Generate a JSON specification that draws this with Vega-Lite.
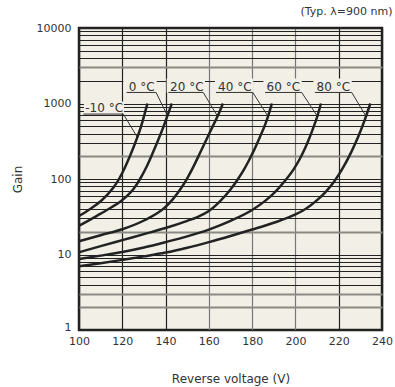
{
  "$schema": "https://vega.github.io/schema/vega-lite/v6.json",
  "width": 303,
  "height": 302,
  "autosize": {"type": "none"},
  "padding": {"left": 79, "top": 28, "right": 13, "bottom": 57},
  "background": "white",
  "title": {"text": "(Typ. λ=900 nm)", "anchor": "end", "fontSize": 11, "fontWeight": "normal", "color": "#333", "font": "DejaVu Sans", "offset": 5},
  "config": {
    "font": "DejaVu Sans",
    "view": {"fill": "#F2EFE6", "stroke": "#222", "strokeWidth": 2.5}
  },
  "datasets": {
    "curves": [
      {"t": "-10 °C", "v": 100, "g": 32.4}, {"t": "-10 °C", "v": 105, "g": 39.8}, {"t": "-10 °C", "v": 110, "g": 50.7}, {"t": "-10 °C", "v": 113, "g": 61.7}, {"t": "-10 °C", "v": 116, "g": 77.6}, {"t": "-10 °C", "v": 118.5, "g": 100}, {"t": "-10 °C", "v": 121, "g": 138}, {"t": "-10 °C", "v": 123.5, "g": 200}, {"t": "-10 °C", "v": 126, "g": 302}, {"t": "-10 °C", "v": 128.5, "g": 479}, {"t": "-10 °C", "v": 130.3, "g": 724}, {"t": "-10 °C", "v": 131.6, "g": 1000},
      {"t": "0 °C", "v": 100, "g": 24}, {"t": "0 °C", "v": 105, "g": 28.8}, {"t": "0 °C", "v": 110, "g": 34.7}, {"t": "0 °C", "v": 115, "g": 42.2}, {"t": "0 °C", "v": 119, "g": 50.1}, {"t": "0 °C", "v": 122, "g": 58.9}, {"t": "0 °C", "v": 125, "g": 72.4}, {"t": "0 °C", "v": 128, "g": 97.7}, {"t": "0 °C", "v": 131, "g": 141}, {"t": "0 °C", "v": 134, "g": 219}, {"t": "0 °C", "v": 136.5, "g": 324}, {"t": "0 °C", "v": 139, "g": 490}, {"t": "0 °C", "v": 141, "g": 708}, {"t": "0 °C", "v": 142.9, "g": 1000},
      {"t": "20 °C", "v": 100, "g": 15}, {"t": "20 °C", "v": 110, "g": 18}, {"t": "20 °C", "v": 120, "g": 21.6}, {"t": "20 °C", "v": 130, "g": 28.2}, {"t": "20 °C", "v": 140, "g": 42.7}, {"t": "20 °C", "v": 143, "g": 52.5}, {"t": "20 °C", "v": 146.5, "g": 70.8}, {"t": "20 °C", "v": 150, "g": 102}, {"t": "20 °C", "v": 153, "g": 148}, {"t": "20 °C", "v": 156, "g": 224}, {"t": "20 °C", "v": 159, "g": 339}, {"t": "20 °C", "v": 162, "g": 513}, {"t": "20 °C", "v": 164.5, "g": 724}, {"t": "20 °C", "v": 166.5, "g": 1000},
      {"t": "40 °C", "v": 100, "g": 10.7}, {"t": "40 °C", "v": 110, "g": 12.9}, {"t": "40 °C", "v": 120, "g": 15.5}, {"t": "40 °C", "v": 130, "g": 18.6}, {"t": "40 °C", "v": 140, "g": 22.4}, {"t": "40 °C", "v": 150, "g": 27.9}, {"t": "40 °C", "v": 155, "g": 31.6}, {"t": "40 °C", "v": 160, "g": 37.6}, {"t": "40 °C", "v": 165, "g": 50.1}, {"t": "40 °C", "v": 170, "g": 72.4}, {"t": "40 °C", "v": 173, "g": 95.5}, {"t": "40 °C", "v": 176, "g": 130}, {"t": "40 °C", "v": 178.5, "g": 176}, {"t": "40 °C", "v": 181, "g": 245}, {"t": "40 °C", "v": 183.5, "g": 355}, {"t": "40 °C", "v": 186, "g": 525}, {"t": "40 °C", "v": 188, "g": 776}, {"t": "40 °C", "v": 189.1, "g": 1000},
      {"t": "60 °C", "v": 100, "g": 8.7}, {"t": "60 °C", "v": 110, "g": 9.66}, {"t": "60 °C", "v": 120, "g": 10.8}, {"t": "60 °C", "v": 130, "g": 12.4}, {"t": "60 °C", "v": 140, "g": 14.6}, {"t": "60 °C", "v": 150, "g": 17.4}, {"t": "60 °C", "v": 160, "g": 21.4}, {"t": "60 °C", "v": 170, "g": 27.9}, {"t": "60 °C", "v": 180, "g": 38.9}, {"t": "60 °C", "v": 186, "g": 51.3}, {"t": "60 °C", "v": 191, "g": 69.2}, {"t": "60 °C", "v": 195, "g": 93.3}, {"t": "60 °C", "v": 199, "g": 132}, {"t": "60 °C", "v": 202, "g": 184}, {"t": "60 °C", "v": 204.5, "g": 257}, {"t": "60 °C", "v": 206.5, "g": 351}, {"t": "60 °C", "v": 208.4, "g": 490}, {"t": "60 °C", "v": 210, "g": 661}, {"t": "60 °C", "v": 211.8, "g": 1000},
      {"t": "80 °C", "v": 100, "g": 7}, {"t": "80 °C", "v": 110, "g": 7.67}, {"t": "80 °C", "v": 120, "g": 8.49}, {"t": "80 °C", "v": 130, "g": 9.44}, {"t": "80 °C", "v": 140, "g": 10.6}, {"t": "80 °C", "v": 150, "g": 12.3}, {"t": "80 °C", "v": 160, "g": 14.6}, {"t": "80 °C", "v": 170, "g": 17.6}, {"t": "80 °C", "v": 180, "g": 21.4}, {"t": "80 °C", "v": 190, "g": 26.3}, {"t": "80 °C", "v": 200, "g": 33.9}, {"t": "80 °C", "v": 205, "g": 40.7}, {"t": "80 °C", "v": 210, "g": 52.5}, {"t": "80 °C", "v": 214, "g": 67.6}, {"t": "80 °C", "v": 218, "g": 93.3}, {"t": "80 °C", "v": 222, "g": 141}, {"t": "80 °C", "v": 226, "g": 234}, {"t": "80 °C", "v": 229, "g": 363}, {"t": "80 °C", "v": 232, "g": 603}, {"t": "80 °C", "v": 234.6, "g": 1000}
    ],
    "boxes": [
      {"t": "-10 °C", "v": 102.3, "v2": 120.8, "g": 740, "g2": 1060},
      {"t": "0 °C", "v": 120.5, "v2": 135.9, "g": 1400, "g2": 2150},
      {"t": "20 °C", "v": 140.5, "v2": 158.2, "g": 1400, "g2": 2150},
      {"t": "40 °C", "v": 162.8, "v2": 180.5, "g": 1400, "g2": 2150},
      {"t": "60 °C", "v": 185.2, "v2": 202.9, "g": 1400, "g2": 2150},
      {"t": "80 °C", "v": 208.3, "v2": 226, "g": 1400, "g2": 2150}
    ],
    "leaders": [
      {"t": "-10 °C", "o": 1, "v": 102, "g": 724}, {"t": "-10 °C", "o": 2, "v": 120.5, "g": 724}, {"t": "-10 °C", "o": 3, "v": 126.9, "g": 359},
      {"t": "0 °C", "o": 1, "v": 122, "g": 1400}, {"t": "0 °C", "o": 2, "v": 135.6, "g": 1400}, {"t": "0 °C", "o": 3, "v": 140.9, "g": 690},
      {"t": "20 °C", "o": 1, "v": 141.3, "g": 1400}, {"t": "20 °C", "o": 2, "v": 157.4, "g": 1400}, {"t": "20 °C", "o": 3, "v": 164, "g": 680},
      {"t": "40 °C", "o": 1, "v": 163.3, "g": 1400}, {"t": "40 °C", "o": 2, "v": 180.3, "g": 1400}, {"t": "40 °C", "o": 3, "v": 187.3, "g": 680},
      {"t": "60 °C", "o": 1, "v": 186, "g": 1400}, {"t": "60 °C", "o": 2, "v": 202.9, "g": 1400}, {"t": "60 °C", "o": 3, "v": 210.1, "g": 680},
      {"t": "80 °C", "o": 1, "v": 209, "g": 1400}, {"t": "80 °C", "o": 2, "v": 226, "g": 1400}, {"t": "80 °C", "o": 3, "v": 232.6, "g": 680}
    ],
    "labels": [
      {"t": "-10 °C", "v": 111.6, "g": 880},
      {"t": "0 °C", "v": 129, "g": 1667},
      {"t": "20 °C", "v": 149.8, "g": 1667},
      {"t": "40 °C", "v": 172, "g": 1667},
      {"t": "60 °C", "v": 194.4, "g": 1667},
      {"t": "80 °C", "v": 217.5, "g": 1667}
    ]
  },
  "encoding": {
    "x": {
      "field": "v", "type": "quantitative",
      "scale": {"domain": [100, 240], "nice": false, "zero": false},
      "axis": {
        "values": [100, 120, 140, 160, 180, 200, 220, 240],
        "title": "Reverse voltage (V)",
        "grid": true,
        "gridColor": {"condition": {"test": "datum.value >= 160 && datum.value <= 200", "value": "#777"}, "value": "#222"},
        "gridWidth": 1.2,
        "ticks": false, "domain": false, "labelFlush": false,
        "labelPadding": 5, "labelFontSize": 11, "labelColor": "#333", "labelFont": "DejaVu Sans",
        "titlePadding": 27, "titleFontSize": 12, "titleFontWeight": "normal", "titleColor": "#333", "titleFont": "DejaVu Sans"
      }
    },
    "y": {
      "field": "g", "type": "quantitative",
      "scale": {"type": "log", "domain": [1, 10000], "nice": false},
      "axis": {
        "values": [1, 2, 3, 4, 5, 6, 7, 8, 9, 10, 20, 30, 40, 50, 60, 70, 80, 90, 100, 200, 300, 400, 500, 600, 700, 800, 900, 1000, 2000, 3000, 4000, 5000, 6000, 7000, 8000, 9000, 10000],
        "labelExpr": "indexof([1, 10, 100, 1000, 10000], datum.value) >= 0 ? datum.value : ''",
        "labelOverlap": false, "labelFlush": false,
        "labelBaseline": {"condition": {"test": "datum.value == 1", "value": "alphabetic"}, "value": "middle"},
        "title": "Gain",
        "grid": true,
        "gridColor": {"condition": {"test": "indexof([2, 3, 20, 200, 3000], datum.value) >= 0", "value": "#8a8a84"}, "value": "#222"},
        "gridWidth": {"condition": {"test": "indexof([2, 3, 20, 200, 3000], datum.value) >= 0", "value": 2}, "value": 1},
        "ticks": false, "domain": false,
        "labelPadding": 8, "labelFontSize": 11, "labelColor": "#333", "labelFont": "DejaVu Sans",
        "titlePadding": 12, "titleFontSize": 12, "titleFontWeight": "normal", "titleColor": "#333", "titleFont": "DejaVu Sans"
      }
    }
  },
  "layer": [
    {
      "data": {"name": "boxes"},
      "mark": {"type": "rect", "fill": "#F2EFE6"},
      "encoding": {"x2": {"field": "v2"}, "y2": {"field": "g2"}}
    },
    {
      "data": {"name": "leaders"},
      "mark": {"type": "line", "stroke": "#333", "strokeWidth": 1},
      "encoding": {"detail": {"field": "t"}, "order": {"field": "o", "type": "quantitative"}}
    },
    {
      "data": {"name": "curves"},
      "mark": {"type": "line", "stroke": "#222", "strokeWidth": 2.5, "interpolate": "monotone"},
      "encoding": {"detail": {"field": "t"}}
    },
    {
      "data": {"name": "labels"},
      "mark": {"type": "text", "fontSize": 12, "color": "#333", "font": "DejaVu Sans"},
      "encoding": {"text": {"field": "t"}}
    }
  ]
}
